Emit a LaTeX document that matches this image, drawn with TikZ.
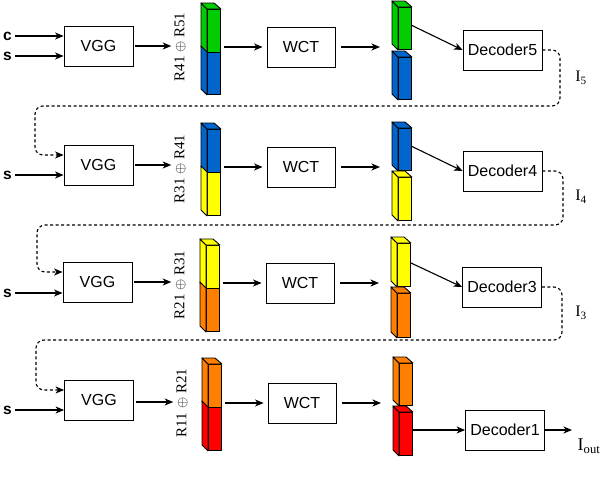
\documentclass[tikz,border=0pt]{standalone}
\usepackage{fontspec}
\setmainfont{Liberation Serif}
\setsansfont{Liberation Sans}
\usetikzlibrary{arrows.meta,calc}
\definecolor{cgreen}{HTML}{00CC00}
\definecolor{cblue}{HTML}{0066CC}
\definecolor{cyellow}{HTML}{FFFF00}
\definecolor{corange}{HTML}{FF8000}
\definecolor{cred}{HTML}{FF0000}
\tikzset{
  box/.style={draw, line width=0.8pt, inner sep=0, minimum height=40pt, font=\sffamily\fontsize{16}{18}\selectfont},
  vggbox/.style={box, minimum width=69pt},
  wctbox/.style={box, minimum width=68pt},
  decbox/.style={box, minimum width=79pt},
  arr/.style={-{Stealth[length=8.5pt,width=7pt,inset=2.4pt]}, line width=1.1pt},
  darr/.style={arr, dash pattern=on 3pt off 2.5pt, rounded corners=8pt},
  lbl/.style={font=\fontsize{15}{17}\selectfont, rotate=90, inner sep=1pt},
  inp/.style={font=\sffamily\bfseries\fontsize{15.5}{17}\selectfont, inner sep=0},
  face/.style={draw, line width=0.9pt, line join=round},
  ilbl/.style={font=\fontsize{16}{18}\selectfont, inner sep=0},
}
\newcommand\fpart[5]{%
  \node[face, fill=#5, inner sep=0, minimum width=13pt, minimum height={#4-#3}, anchor=north west] (#1) at (#2,#3) {};
  \filldraw[face, fill=#5] (#1.north west) -- ++(-6,-6) -- ($(#1.south west)+(-6,-6)$) -- (#1.south west) -- cycle;
}
\newcommand\ftop[2]{%
  \filldraw[face, fill=#2] (#1.north west) -- ++(-6,-6) -- ++(13,0) -- (#1.north east) -- cycle;
}
\begin{document}
\begin{tikzpicture}[x=1pt,y=-1pt]
\useasboundingbox (0,0) rectangle (600,490);
% ---------- Row 1
\node[inp] (c1) at (7.5,36) {c};
\node[inp] (s1) at (7.5,56) {s};
\node[vggbox] (v1) at (98.5,46) {VGG};
\draw[arr, shorten <=3pt] (c1.east) -- (c1.east -| v1.west);
\draw[arr, shorten <=3pt] (s1.east) -- (s1.east -| v1.west);
\node[lbl] (l1) at (180,47) {R41 $\oplus$ R51};
\draw[arr, shorten <=2pt, shorten >=2pt] (v1.east) -- (v1.east -| l1.north);
\fpart{a1}{207}{9}{52}{cgreen}\ftop{a1}{cgreen}
\fpart{b1}{207}{52}{94}{cblue}
\node[wctbox] (w1) at (301,47) {WCT};
\draw[arr, shorten <=3pt, shorten >=4pt] (a1.east |- w1.west) -- (w1.west);
\fpart{g1}{398}{7}{49}{cgreen}\ftop{g1}{cgreen}
\fpart{h1}{398}{57}{99}{cblue}\ftop{h1}{cblue}
\draw[arr, shorten <=6pt, shorten >=18pt] (w1.east) -- (w1.east -| g1.west);
\node[decbox] (d1) at (502.5,50) {Decoder5};
\draw[arr] ([yshift=3pt]g1.east) -- (d1.west);
\node[ilbl] (i5) at (581,78) {I\textsubscript{5}};
% ---------- Row 2
\node[inp] (s2) at (7.5,175) {s};
\node[vggbox] (v2) at (98.5,165) {VGG};
\draw[darr] (d1.east) -- (560,50) -- (560,106) -- (35,106) -- (35,155) -- ([yshift=10pt]v2.west);
\draw[arr, shorten <=3pt] (s2.east) -- (s2.east -| v2.west);
\node[lbl] (l2) at (180,169) {R31 $\oplus$ R41};
\draw[arr, shorten <=2pt, shorten >=2pt] (v2.east) -- (v2.east -| l2.north);
\fpart{a2}{207}{129}{172}{cblue}\ftop{a2}{cblue}
\fpart{b2}{207}{172}{215}{cyellow}
\node[wctbox] (w2) at (301,167) {WCT};
\draw[arr, shorten <=3pt, shorten >=4pt] (a2.east |- w2.west) -- (w2.west);
\fpart{g2}{398}{128}{170}{cblue}\ftop{g2}{cblue}
\fpart{h2}{398}{177}{220}{cyellow}\ftop{h2}{cyellow}
\draw[arr, shorten <=6pt, shorten >=18pt] (w2.east) -- (w2.east -| g2.west);
\node[decbox] (d2) at (502.5,171) {Decoder4};
\draw[arr] ([yshift=3pt]g2.east) -- (d2.west);
\node[ilbl] (i4) at (581,197) {I\textsubscript{4}};
% ---------- Row 3
\node[inp] (s3) at (7.5,293) {s};
\node[vggbox] (v3) at (97.5,282) {VGG};
\draw[darr] (d2.east) -- (563,171) -- (563,225) -- (37,225) -- (37,272) -- ([yshift=10pt]v3.west);
\draw[arr, shorten <=3pt] (s3.east) -- (s3.east -| v3.west);
\node[lbl] (l3) at (180,285) {R21 $\oplus$ R31};
\draw[arr, shorten <=2pt, shorten >=2pt] (v3.east) -- (v3.east -| l3.north);
\fpart{a3}{206}{245}{288}{cyellow}\ftop{a3}{cyellow}
\fpart{b3}{206}{288}{331}{corange}
\node[wctbox] (w3) at (300,283) {WCT};
\draw[arr, shorten <=3pt, shorten >=4pt] (a3.east |- w3.west) -- (w3.west);
\fpart{g3}{397}{243}{286}{cyellow}\ftop{g3}{cyellow}
\fpart{h3}{397}{293}{337}{corange}\ftop{h3}{corange}
\draw[arr, shorten <=6pt, shorten >=18pt] (w3.east) -- (w3.east -| g3.west);
\node[decbox] (d3) at (502,287) {Decoder3};
\draw[arr] ([yshift=2pt]g3.east) -- (d3.west);
\node[ilbl] (i3) at (581,313) {I\textsubscript{3}};
% ---------- Row 4
\node[inp] (s4) at (7.5,410) {s};
\node[vggbox] (v4) at (99,400) {VGG};
\draw[darr] (d3.east) -- (562,287) -- (562,340) -- (36,340) -- (36,390) -- ([yshift=10pt]v4.west);
\draw[arr, shorten <=3pt] (s4.east) -- (s4.east -| v4.west);
\node[lbl] (l4) at (182,403) {R11 $\oplus$ R21};
\draw[arr, shorten <=2pt, shorten >=2pt] ([yshift=-2pt]v4.east) -- ([yshift=-2pt]v4.east -| l4.north);
\fpart{a4}{208}{364}{407}{corange}\ftop{a4}{corange}
\fpart{b4}{208}{407}{450}{cred}
\node[wctbox] (w4) at (302,403) {WCT};
\draw[arr, shorten <=3pt, shorten >=4pt] (a4.east |- w4.west) -- (w4.west);
\fpart{g4}{399}{363}{405}{corange}\ftop{g4}{corange}
\fpart{h4}{399}{412}{455}{cred}\ftop{h4}{cred}
\draw[arr, shorten <=6pt, shorten >=18pt] (w4.east) -- (w4.east -| g4.west);
\node[decbox] (d4) at (505,430) {Decoder1};
\draw[arr] (h4.east |- d4.west) -- (d4.west);
\coordinate (o) at (572,430);
\draw[arr] (d4.east) -- (o);
\node[ilbl, font=\fontsize{18}{20}\selectfont] (io) at (589,446) {I\textsubscript{out}};
\end{tikzpicture}
\end{document}
